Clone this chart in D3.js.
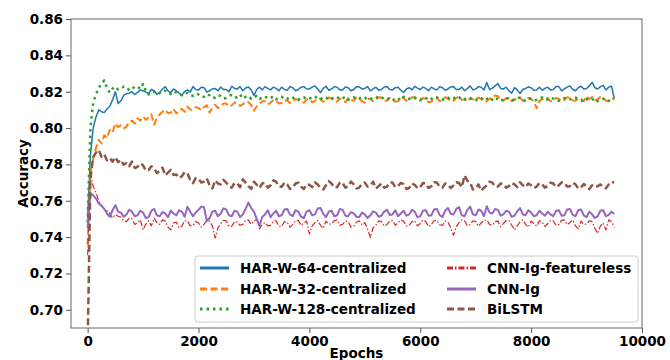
<!DOCTYPE html>
<html>
<head>
<meta charset="utf-8">
<script src="https://cdn.jsdelivr.net/npm/d3@7"></script>
<style>
  html, body { margin: 0; padding: 0; background: #fff; }
  svg text { font-family: "DejaVu Sans", sans-serif; font-weight: bold; }
</style>
</head>
<body>
<div id="chart"></div>
<script>
// x values shared by every series (one point every 50 epochs)
const epochs = [
  0, 50, 100, 150, 200, 250, 300, 350, 400, 450,
  500, 550, 600, 650, 700, 750, 800, 850, 900, 950,
  1000, 1050, 1100, 1150, 1200, 1250, 1300, 1350, 1400, 1450,
  1500, 1550, 1600, 1650, 1700, 1750, 1800, 1850, 1900, 1950,
  2000, 2050, 2100, 2150, 2200, 2250, 2300, 2350, 2400, 2450,
  2500, 2550, 2600, 2650, 2700, 2750, 2800, 2850, 2900, 2950,
  3000, 3050, 3100, 3150, 3200, 3250, 3300, 3350, 3400, 3450,
  3500, 3550, 3600, 3650, 3700, 3750, 3800, 3850, 3900, 3950,
  4000, 4050, 4100, 4150, 4200, 4250, 4300, 4350, 4400, 4450,
  4500, 4550, 4600, 4650, 4700, 4750, 4800, 4850, 4900, 4950,
  5000, 5050, 5100, 5150, 5200, 5250, 5300, 5350, 5400, 5450,
  5500, 5550, 5600, 5650, 5700, 5750, 5800, 5850, 5900, 5950,
  6000, 6050, 6100, 6150, 6200, 6250, 6300, 6350, 6400, 6450,
  6500, 6550, 6600, 6650, 6700, 6750, 6800, 6850, 6900, 6950,
  7000, 7050, 7100, 7150, 7200, 7250, 7300, 7350, 7400, 7450,
  7500, 7550, 7600, 7650, 7700, 7750, 7800, 7850, 7900, 7950,
  8000, 8050, 8100, 8150, 8200, 8250, 8300, 8350, 8400, 8450,
  8500, 8550, 8600, 8650, 8700, 8750, 8800, 8850, 8900, 8950,
  9000, 9050, 9100, 9150, 9200, 9250, 9300, 9350, 9400, 9450,
  9500
];

const harW64 = [
  0.750, 0.785, 0.800, 0.806, 0.810, 0.809, 0.8085, 0.8105, 0.812, 0.8155,
  0.820, 0.8135, 0.815, 0.818, 0.819, 0.8192, 0.820, 0.8185, 0.8195, 0.821,
  0.8205, 0.8198, 0.819, 0.8212, 0.8205, 0.8185, 0.8195, 0.8215, 0.8228, 0.8205,
  0.8195, 0.8215, 0.8205, 0.8192, 0.818, 0.8202, 0.821, 0.8198, 0.8228, 0.8212,
  0.8210, 0.8225, 0.8222, 0.8198, 0.8205, 0.8215, 0.8218, 0.8205, 0.8225, 0.8212,
  0.8212, 0.8200, 0.8230, 0.8218, 0.8215, 0.8228, 0.8205, 0.8220, 0.8226, 0.8210,
  0.8180, 0.8212, 0.8225, 0.8210, 0.8228, 0.8218, 0.8210, 0.8225, 0.8218, 0.8205,
  0.8225, 0.8212, 0.8208, 0.8228, 0.8222, 0.8205, 0.8212, 0.8225, 0.8228, 0.8215,
  0.8215, 0.8225, 0.8232, 0.8215, 0.8195, 0.8218, 0.8230, 0.8208, 0.8215, 0.8228,
  0.8225, 0.8210, 0.8210, 0.8226, 0.8222, 0.8205, 0.8212, 0.8228, 0.8226, 0.8215,
  0.8218, 0.8228, 0.8205, 0.8215, 0.8225, 0.8208, 0.8212, 0.8226, 0.8228, 0.8212,
  0.8210, 0.8222, 0.8224, 0.8208, 0.8196, 0.8215, 0.8222, 0.8210, 0.8230, 0.8220,
  0.8212, 0.8225, 0.8218, 0.8205, 0.8225, 0.8215, 0.8210, 0.8228, 0.8222, 0.8208,
  0.8215, 0.8226, 0.8228, 0.8212, 0.8212, 0.8225, 0.8205, 0.8218, 0.8232, 0.8210,
  0.8215, 0.8228, 0.8225, 0.8210, 0.8250, 0.8212, 0.8220, 0.8232, 0.8245, 0.8218,
  0.8215, 0.8225, 0.8205, 0.8192, 0.8222, 0.8210, 0.8190, 0.8212, 0.8218, 0.8226,
  0.8222, 0.8208, 0.8210, 0.8225, 0.8208, 0.8218, 0.8225, 0.8210, 0.8212, 0.8228,
  0.8228, 0.8205, 0.8215, 0.8225, 0.8232, 0.8212, 0.8205, 0.8222, 0.8230, 0.8215,
  0.8218, 0.8232, 0.8252, 0.8222, 0.8215, 0.8228, 0.8235, 0.8210, 0.8225, 0.8230,
  0.8162
];

const harW32 = [
  0.7357, 0.775, 0.783, 0.789, 0.7935, 0.7915, 0.796, 0.7945, 0.799, 0.7975,
  0.8026, 0.8005, 0.8015, 0.7998, 0.8007, 0.8035, 0.804, 0.8025, 0.8054, 0.8040,
  0.8063, 0.8045, 0.8060, 0.8075, 0.8020, 0.8058, 0.8075, 0.8090, 0.8100, 0.8082,
  0.8085, 0.8105, 0.8080, 0.8098, 0.8105, 0.8090, 0.8118, 0.8102, 0.8100, 0.8115,
  0.8110, 0.8098, 0.8115, 0.8125, 0.8085, 0.8112, 0.8128, 0.8110, 0.8120, 0.8135,
  0.8135, 0.8118, 0.8125, 0.8140, 0.8138, 0.8122, 0.8130, 0.8145, 0.8142, 0.8128,
  0.8095, 0.8120, 0.8135, 0.8148, 0.8148, 0.8130, 0.8140, 0.8155, 0.8150, 0.8135,
  0.8138, 0.8152, 0.8152, 0.8138, 0.8145, 0.8160, 0.8155, 0.8140, 0.8140, 0.8158,
  0.8158, 0.8142, 0.8148, 0.8165, 0.8160, 0.8145, 0.8150, 0.8168, 0.8162, 0.8148,
  0.8145, 0.8162, 0.8158, 0.8142, 0.8165, 0.8155, 0.8150, 0.8168, 0.8160, 0.8148,
  0.8140, 0.8158, 0.8162, 0.8148, 0.8155, 0.8170, 0.8168, 0.8150, 0.8150, 0.8165,
  0.8160, 0.8145, 0.8148, 0.8165, 0.8165, 0.8150, 0.8155, 0.8170, 0.8168, 0.8152,
  0.8150, 0.8165, 0.8160, 0.8142, 0.8145, 0.8162, 0.8165, 0.8148, 0.8155, 0.8170,
  0.8162, 0.8148, 0.8150, 0.8165, 0.8175, 0.8155, 0.8158, 0.8145, 0.8165, 0.8158,
  0.8152, 0.8168, 0.8160, 0.8145, 0.8148, 0.8162, 0.8162, 0.8180, 0.8175, 0.8158,
  0.8150, 0.8165, 0.8165, 0.8148, 0.8155, 0.8168, 0.8168, 0.8150, 0.8152, 0.8166,
  0.8160, 0.8145, 0.8108, 0.8150, 0.8158, 0.8170, 0.8165, 0.8148, 0.8150, 0.8166,
  0.8162, 0.8148, 0.8155, 0.8170, 0.8168, 0.8152, 0.8150, 0.8165, 0.8162, 0.8148,
  0.8175, 0.8160, 0.8170, 0.8152, 0.8158, 0.8170, 0.8165, 0.8150, 0.8148, 0.8165,
  0.8160
];

const harW128 = [
  0.748, 0.800, 0.8138, 0.8185, 0.822, 0.8245, 0.8262, 0.8220, 0.8195, 0.8218,
  0.8228, 0.8212, 0.8215, 0.8228, 0.8225, 0.8208, 0.8212, 0.8230, 0.8228, 0.8215,
  0.8242, 0.8205, 0.8185, 0.8200, 0.8200, 0.8188, 0.8192, 0.8208, 0.8205, 0.8190,
  0.8188, 0.8202, 0.8196, 0.8185, 0.8180, 0.8195, 0.8192, 0.8180, 0.8178, 0.8190,
  0.8185, 0.8172, 0.8172, 0.8186, 0.8180, 0.8165, 0.8168, 0.8182, 0.8176, 0.8162,
  0.8165, 0.8178, 0.8182, 0.8168, 0.8170, 0.8185, 0.8162, 0.8172, 0.8178, 0.8160,
  0.8168, 0.8178, 0.8160, 0.8168, 0.8175, 0.8162, 0.8165, 0.8175, 0.8158, 0.8170,
  0.8172, 0.8158, 0.8160, 0.8172, 0.8168, 0.8156, 0.8155, 0.8168, 0.8170, 0.8158,
  0.8162, 0.8170, 0.8176, 0.8160, 0.8158, 0.8172, 0.8168, 0.8155, 0.8160, 0.8170,
  0.8172, 0.8158, 0.8164, 0.8172, 0.8155, 0.8165, 0.8170, 0.8158, 0.8162, 0.8172,
  0.8168, 0.8155, 0.8158, 0.8170, 0.8172, 0.8160, 0.8160, 0.8172, 0.8166, 0.8155,
  0.8150, 0.8165, 0.8165, 0.8152, 0.8172, 0.8162, 0.8160, 0.8170, 0.8168, 0.8155,
  0.8155, 0.8168, 0.8165, 0.8152, 0.8160, 0.8172, 0.8170, 0.8158, 0.8155, 0.8165,
  0.8168, 0.8155, 0.8162, 0.8175, 0.8170, 0.8155, 0.8158, 0.8168, 0.8166, 0.8152,
  0.8152, 0.8165, 0.8165, 0.8150, 0.8160, 0.8170, 0.8155, 0.8148, 0.8168, 0.8160,
  0.8150, 0.8162, 0.8162, 0.8150, 0.8158, 0.8168, 0.8165, 0.8152, 0.8152, 0.8165,
  0.8160, 0.8150, 0.8155, 0.8166, 0.8168, 0.8155, 0.8158, 0.8168, 0.8162, 0.8150,
  0.8150, 0.8162, 0.8165, 0.8155, 0.8158, 0.8168, 0.8168, 0.8155, 0.8152, 0.8145,
  0.8160, 0.8150, 0.8156, 0.8165, 0.8148, 0.8158, 0.8162, 0.8148, 0.8150, 0.8160,
  0.8158
];

const cnnFeatureless = [
  0.730, 0.775, 0.768, 0.7645, 0.760, 0.7575, 0.7555, 0.7545, 0.753, 0.7505,
  0.7525, 0.7515, 0.7510, 0.7492, 0.7485, 0.7505, 0.7500, 0.7470, 0.7478, 0.7495,
  0.7440, 0.7472, 0.7490, 0.7462, 0.7505, 0.7480, 0.7470, 0.7495, 0.7488, 0.7455,
  0.7440, 0.7478, 0.7482, 0.7450, 0.7460, 0.7490, 0.7490, 0.7462, 0.7465, 0.7485,
  0.7478, 0.7455, 0.7470, 0.7492, 0.7488, 0.7462, 0.7395, 0.7450, 0.7475, 0.7492,
  0.7490, 0.7458, 0.7460, 0.7485, 0.7482, 0.7465, 0.7470, 0.7492, 0.7495, 0.7470,
  0.7488, 0.7498, 0.7445, 0.7470, 0.7480, 0.7462, 0.7465, 0.7488, 0.7490, 0.7460,
  0.7458, 0.7485, 0.7482, 0.7455, 0.7470, 0.7490, 0.7492, 0.7465, 0.7478, 0.7488,
  0.7418, 0.7462, 0.7480, 0.7492, 0.7465, 0.7448, 0.7488, 0.7470, 0.7475, 0.7490,
  0.7495, 0.7465, 0.7470, 0.7488, 0.7485, 0.7455, 0.7460, 0.7482, 0.7490, 0.7468,
  0.7480, 0.7445, 0.7398, 0.7452, 0.7465, 0.7490, 0.7485, 0.7460, 0.7470, 0.7488,
  0.7492, 0.7465, 0.7478, 0.7495, 0.7488, 0.7460, 0.7465, 0.7485, 0.7490, 0.7462,
  0.7475, 0.7495, 0.7485, 0.7458, 0.7470, 0.7490, 0.7492, 0.7468, 0.7465, 0.7488,
  0.7482, 0.7452, 0.7410, 0.7458, 0.7480, 0.7495, 0.7490, 0.7462, 0.7468, 0.7490,
  0.7485, 0.7460, 0.7478, 0.7492, 0.7495, 0.7470, 0.7465, 0.7485, 0.7488, 0.7458,
  0.7475, 0.7490, 0.7492, 0.7465, 0.7440, 0.7462, 0.7485, 0.7495, 0.7470, 0.7455,
  0.7488, 0.7475, 0.7460, 0.7490, 0.7482, 0.7458, 0.7475, 0.7492, 0.7490, 0.7465,
  0.7470, 0.7492, 0.7495, 0.7468, 0.7480, 0.7495, 0.7462, 0.7445, 0.7488, 0.7470,
  0.7472, 0.7490, 0.7485, 0.7448, 0.7420, 0.7462, 0.7478, 0.7440, 0.7495, 0.7485,
  0.7455
];

const cnnIg = [
  0.745, 0.764, 0.763, 0.7612, 0.7585, 0.7572, 0.7555, 0.7530, 0.7512, 0.7548,
  0.7576, 0.7540, 0.7535, 0.7512, 0.7525, 0.7550, 0.7540, 0.7515, 0.7520, 0.7545,
  0.7535, 0.7505, 0.7510, 0.7545, 0.7555, 0.7520, 0.7515, 0.7538, 0.7530, 0.7510,
  0.7545, 0.7530, 0.7520, 0.7548, 0.7540, 0.7512, 0.7567, 0.7540, 0.7515, 0.7535,
  0.7550, 0.7568, 0.7565, 0.7488, 0.7505, 0.7540, 0.7545, 0.7515, 0.7530, 0.7558,
  0.7552, 0.7520, 0.7515, 0.7545, 0.7540, 0.7510, 0.7525, 0.7555, 0.7590, 0.7560,
  0.7540, 0.7500, 0.7460, 0.7512, 0.7525, 0.7548, 0.7510, 0.7530, 0.7545, 0.7515,
  0.7520, 0.7552, 0.7555, 0.7525, 0.7515, 0.7548, 0.7540, 0.7512, 0.7505, 0.7542,
  0.7548, 0.7520, 0.7525, 0.7558, 0.7560, 0.7528, 0.7510, 0.7540, 0.7545, 0.7515,
  0.7520, 0.7555, 0.7550, 0.7518, 0.7515, 0.7538, 0.7530, 0.7512, 0.7510, 0.7535,
  0.7525, 0.7505, 0.7520, 0.7542, 0.7535, 0.7512, 0.7518, 0.7540, 0.7550, 0.7522,
  0.7525, 0.7548, 0.7515, 0.7530, 0.7545, 0.7518, 0.7525, 0.7550, 0.7540, 0.7510,
  0.7515, 0.7545, 0.7548, 0.7518, 0.7520, 0.7552, 0.7555, 0.7522, 0.7510, 0.7545,
  0.7560, 0.7528, 0.7525, 0.7555, 0.7565, 0.7520, 0.7515, 0.7550, 0.7568, 0.7525,
  0.7520, 0.7552, 0.7545, 0.7515, 0.7570, 0.7535, 0.7530, 0.7555, 0.7550, 0.7518,
  0.7525, 0.7545, 0.7540, 0.7512, 0.7518, 0.7542, 0.7560, 0.7525, 0.7522, 0.7548,
  0.7535, 0.7515, 0.7520, 0.7545, 0.7530, 0.7518, 0.7540, 0.7525, 0.7515, 0.7545,
  0.7548, 0.7518, 0.7520, 0.7552, 0.7555, 0.7522, 0.7515, 0.7548, 0.7552, 0.7520,
  0.7510, 0.7540, 0.7525, 0.7505, 0.7515, 0.7545, 0.7548, 0.7515, 0.7522, 0.7540,
  0.7528
];

const biLstm = [
  0.680, 0.772, 0.784, 0.7865, 0.788, 0.7842, 0.7855, 0.7822, 0.7835, 0.7815,
  0.7840, 0.7812, 0.7825, 0.7798, 0.7808, 0.7790, 0.7815, 0.7780, 0.7787, 0.7805,
  0.7795, 0.7765, 0.7769, 0.7790, 0.7780, 0.7752, 0.7765, 0.7782, 0.7740, 0.7755,
  0.7770, 0.7742, 0.7745, 0.7725, 0.7735, 0.7758, 0.7750, 0.7715, 0.7697, 0.7725,
  0.7720, 0.7700, 0.7705, 0.7722, 0.7685, 0.7668, 0.7712, 0.7695, 0.7690, 0.7715,
  0.7700, 0.7680, 0.7672, 0.7698, 0.7695, 0.7675, 0.7718, 0.7700, 0.7680, 0.7665,
  0.7705, 0.7688, 0.7670, 0.7695, 0.7698, 0.7672, 0.7685, 0.7712, 0.7705, 0.7680,
  0.7676, 0.7700, 0.7690, 0.7665, 0.7672, 0.7695, 0.7700, 0.7678, 0.7665, 0.7690,
  0.7688, 0.7675, 0.7702, 0.7690, 0.7670, 0.7662, 0.7685, 0.7708, 0.7695, 0.7672,
  0.7675, 0.7700, 0.7698, 0.7672, 0.7680, 0.7705, 0.7690, 0.7668, 0.7672, 0.7695,
  0.7700, 0.7678, 0.7685, 0.7705, 0.7668, 0.7680, 0.7695, 0.7672, 0.7678, 0.7700,
  0.7700, 0.7675, 0.7682, 0.7698, 0.7692, 0.7665, 0.7670, 0.7695, 0.7688, 0.7668,
  0.7675, 0.7698, 0.7695, 0.7670, 0.7680, 0.7702, 0.7700, 0.7675, 0.7672, 0.7695,
  0.7690, 0.7670, 0.7685, 0.7702, 0.7698, 0.7675, 0.7740, 0.7710, 0.7700, 0.7662,
  0.7670, 0.7690, 0.7655, 0.7672, 0.7685, 0.7705, 0.7700, 0.7678, 0.7678, 0.7695,
  0.7692, 0.7672, 0.7680, 0.7698, 0.7690, 0.7675, 0.7702, 0.7685, 0.7675, 0.7695,
  0.7685, 0.7670, 0.7678, 0.7698, 0.7690, 0.7672, 0.7682, 0.7700, 0.7695, 0.7675,
  0.7685, 0.7702, 0.7700, 0.7678, 0.7680, 0.7698, 0.7690, 0.7668, 0.7672, 0.7692,
  0.7678, 0.7665, 0.7685, 0.7675, 0.7680, 0.7690, 0.7678, 0.7668, 0.7690, 0.7705,
  0.7700
];

const xTicks = [0, 2000, 4000, 6000, 8000, 10000];
const yTicks = [0.70, 0.72, 0.74, 0.76, 0.78, 0.80, 0.82, 0.84, 0.86];

const series = [
  {name: 'HAR-W-64-centralized', values: harW64, color: '#1f77b4', width: 1.5, dash: null},
  {name: 'HAR-W-32-centralized', values: harW32, color: '#ff7f0e', width: 2, dash: '7,3.5'},
  {name: 'HAR-W-128-centralized', values: harW128, color: '#2ca02c', width: 2.5, dash: '2.5,4'},
  {name: 'CNN-Ig-featureless', values: cnnFeatureless, color: '#d62728', width: 1.2, dash: '6,2,1.5,2'},
  {name: 'CNN-Ig', values: cnnIg, color: '#9467bd', width: 2, dash: null},
  {name: 'BiLSTM', values: biLstm, color: '#8c564b', width: 2.5, dash: '7,3.5'}
];

const W = 670, H = 360;
const plot = {left: 71, right: 642, top: 19, bottom: 328};

const svg = d3.select('#chart').append('svg')
  .attr('width', W)
  .attr('height', H);

const x = d3.scaleLinear().domain([-300, 10000]).range([plot.left, plot.right]);
const y = d3.scaleLinear().domain([0.69, 0.86]).range([plot.bottom, plot.top]);

svg.append('clipPath').attr('id', 'plotClip')
  .append('rect')
  .attr('x', plot.left).attr('y', plot.top)
  .attr('width', plot.right - plot.left)
  .attr('height', plot.bottom - plot.top);

const line = d3.line()
  .defined((d, i) => d != null && epochs[i] != null)
  .x((d, i) => x(epochs[i]))
  .y(d => y(d));

const lines = svg.append('g').attr('clip-path', 'url(#plotClip)');
series.forEach(s => {
  lines.append('path')
    .datum(s.values)
    .attr('fill', 'none')
    .attr('stroke', s.color)
    .attr('stroke-width', s.width)
    .attr('stroke-dasharray', s.dash)
    .attr('stroke-linejoin', 'round')
    .attr('d', line);
});

// axes
const xAxis = svg.append('g')
  .attr('transform', `translate(0,${plot.bottom})`)
  .call(d3.axisBottom(x).tickValues(xTicks).tickFormat(d3.format('d')).tickSize(5).tickPadding(3));
const yAxis = svg.append('g')
  .attr('transform', `translate(${plot.left},0)`)
  .call(d3.axisLeft(y).tickValues(yTicks).tickFormat(d3.format('.2f')).tickSize(5).tickPadding(3));

[xAxis, yAxis].forEach(a => {
  a.select('.domain').remove();
  a.selectAll('.tick line').attr('stroke', '#555');
  a.selectAll('.tick text').attr('fill', '#000').style('font-size', '13.5px');
});

// frame
svg.append('rect')
  .attr('x', plot.left).attr('y', plot.top)
  .attr('width', plot.right - plot.left)
  .attr('height', plot.bottom - plot.top)
  .attr('fill', 'none')
  .attr('stroke', '#666')
  .attr('stroke-width', 1);

svg.append('text')
  .attr('x', (plot.left + plot.right) / 2)
  .attr('y', 358)
  .attr('text-anchor', 'middle')
  .style('font-size', '13.5px')
  .text('Epochs');

svg.append('text')
  .attr('transform', `translate(28,${(plot.top + plot.bottom) / 2}) rotate(-90)`)
  .attr('text-anchor', 'middle')
  .style('font-size', '13.5px')
  .text('Accuracy');

// legend
const legend = svg.append('g');
legend.append('rect')
  .attr('x', 195).attr('y', 256)
  .attr('width', 443).attr('height', 66)
  .attr('rx', 3)
  .attr('fill', '#fff').attr('fill-opacity', 0.8)
  .attr('stroke', '#ccc');

const colX = [200, 447];
const rowY = [268, 289, 309];
series.forEach((s, i) => {
  const cx = colX[Math.floor(i / 3)];
  const cy = rowY[i % 3];
  legend.append('line')
    .attr('x1', cx).attr('x2', cx + 29)
    .attr('y1', cy).attr('y2', cy)
    .attr('stroke', s.color)
    .attr('stroke-width', 3)
    .attr('stroke-dasharray', s.dash);
  legend.append('text')
    .attr('x', cx + 40).attr('y', cy)
    .attr('dy', '0.35em')
    .style('font-size', '13.5px')
    .text(s.name);
});
</script>
</body>
</html>
